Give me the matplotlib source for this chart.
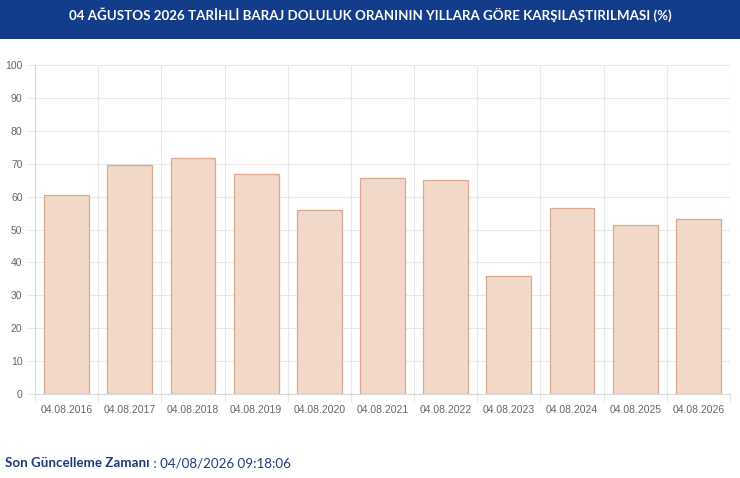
import matplotlib
matplotlib.use('Agg')
import matplotlib.pyplot as plt
from matplotlib.patches import Rectangle
import numpy as np

# Values (%)
dates = ['04.08.2016', '04.08.2017', '04.08.2018', '04.08.2019', '04.08.2020', '04.08.2021',
         '04.08.2022', '04.08.2023', '04.08.2024', '04.08.2025', '04.08.2026']
fill_rates = [60.6, 69.5, 71.6, 66.8, 55.9, 65.8, 65.0, 36.0, 56.4, 51.3, 53.2]
y_ticks = list(range(0, 101, 10))

title = '04 AĞUSTOS 2026 TARİHLİ BARAJ DOLULUK ORANININ YILLARA GÖRE KARŞILAŞTIRILMASI (%)'
update_label = 'Son Güncelleme Zamanı'
update_value = ' : 04/08/2026 09:18:06'

W, H = 740, 478
fig = plt.figure(figsize=(W / 100, H / 100), dpi=100)
fig.patch.set_facecolor('white')

# header banner
fig.patches.append(Rectangle((0, 1 - 39 / H), 1, 39 / H, transform=fig.transFigure,
                             facecolor='#133d8a', edgecolor='none', zorder=0))
fig.text(0.5, 1 - 15 / H, title, ha='center', va='center', color='white',
         fontsize=9.6, fontweight='bold', family=['Lato', 'DejaVu Sans'])

ax = fig.add_axes([35 / W, 84 / H, 695 / W, 329 / H])
x = np.arange(len(dates))
ax.bar(x, fill_rates, width=0.71, color='#f2d8c8', edgecolor='#d9aa90', linewidth=0.9, zorder=3)

ax.set_xlim(-0.5, len(dates) - 0.5)
ax.set_ylim(0, 100)
ax.set_yticks(y_ticks)
ax.set_xticks(x)
ax.set_xticklabels(dates)
ax.set_xticks(np.arange(-0.5, len(dates)), minor=True)

ax.grid(axis='y', which='major', color='#e8e8e8', linewidth=0.8, zorder=0)
ax.grid(axis='x', which='minor', color='#e8e8e8', linewidth=0.8, zorder=0)
ax.tick_params(axis='x', which='major', length=0, pad=8, labelsize=7.5, labelcolor='#666666')
ax.tick_params(axis='x', which='minor', length=6, color='#e8e8e8', width=0.8)
ax.tick_params(axis='y', which='major', length=6, color='#e8e8e8', width=0.8, pad=3,
               labelsize=7.5, labelcolor='#666666')
for lab in ax.get_xticklabels() + ax.get_yticklabels():
    lab.set_family(['Liberation Sans', 'DejaVu Sans'])

for side in ['top', 'right']:
    ax.spines[side].set_visible(False)
ax.spines['left'].set_color('#d8d8d8')
ax.spines['bottom'].set_color('#d8d8d8')
ax.spines['left'].set_linewidth(0.8)
ax.spines['bottom'].set_linewidth(0.8)

# footer: bold label followed by regular value
t1 = fig.text(5 / W, 1 - 463 / H, update_label, ha='left', va='center', color='#1d3b77',
              fontsize=9.6, fontweight='bold', family=['Lato', 'DejaVu Sans'])
fig.canvas.draw()
bb = t1.get_window_extent()
fig.text(bb.x1 / W, 1 - 463 / H, update_value, ha='left', va='center', color='#1d3b77',
         fontsize=9.6, family=['Lato', 'DejaVu Sans'])

fig.savefig('out.png', dpi=100)
